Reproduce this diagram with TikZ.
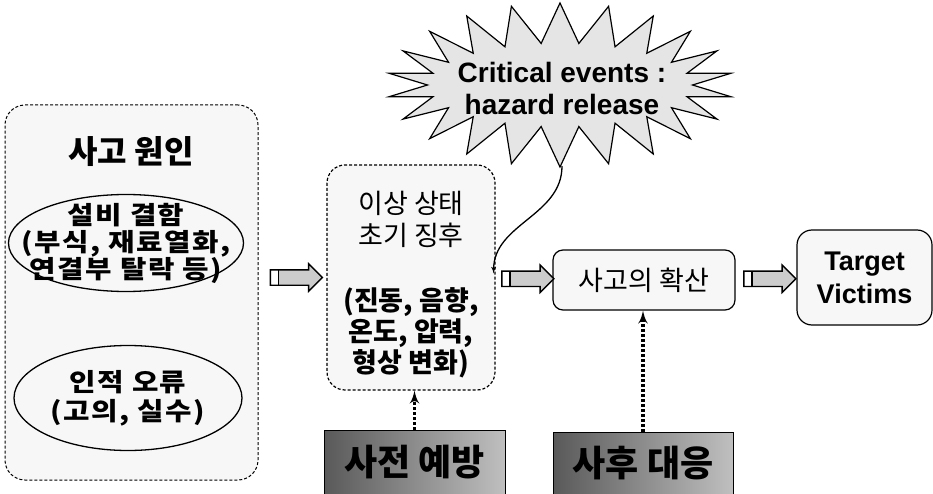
\documentclass[tikz,border=0pt]{standalone}
\usepackage{fontspec}
\setmainfont{Liberation Sans}
\newfontfamily\kr{Noto Sans CJK KR}
\usetikzlibrary{shapes,arrows}
\newcommand{\causefont}{\kr\bfseries\addfontfeature{FakeStretch=1.15,LetterSpace=6}\fontsize{25}{27}\selectfont}
\tikzstyle{group} = [rectangle, draw, densely dashed, line width=1pt, fill=gray!6,
    rounded corners=20pt]
\tikzstyle{cause} = [ellipse, draw, line width=1.3pt, fill=gray!6]
\tikzstyle{block} = [rectangle, draw, line width=1.2pt, fill=gray!6, align=center,
    rounded corners=10pt]
\tikzstyle{action} = [rectangle, draw, line width=1pt, left color=black!65, right color=black!25,
    font=\kr\bfseries\fontsize{36}{40}\selectfont]
\tikzstyle{fat} = [single arrow, draw, line width=1.4pt, fill=gray!40, inner xsep=0pt, inner ysep=7pt,
    minimum height=52pt, single arrow head extend=6pt,
    path picture={\fill[white] (path picture bounding box.south west) rectangle ([xshift=8pt]path picture bounding box.north west);
    \draw[line width=1.4pt] ([xshift=8pt]path picture bounding box.south west) -- ([xshift=8pt]path picture bounding box.north west);}]
\tikzstyle{line} = [draw, -latex', line width=1.3pt]
\tikzstyle{dots} = [draw, dash pattern=on 3pt off 2pt, line width=3.4pt, -latex']

\begin{document}
\begin{tikzpicture}[x=1pt, y=-1pt]
	\useasboundingbox (0,0) rectangle (933,494);

	% causes
	\node [group, minimum width=253pt, minimum height=375pt] (causes) at (131.5,292.5) {};
	\node [font=\kr\bfseries\fontsize{32}{36}\selectfont] (title) at (131,152) {사고 원인};
	\node [cause, minimum width=235pt, minimum height=97pt] (equip) at (126,243) {};
	\node [font=\causefont, align=center] (equiptext) at (equip) {설비 결함\\(부식, 재료열화,\\연결부 탈락 등)};
	\node [cause, minimum width=228pt, minimum height=105pt] (human) at (128,398) {};
	\node [font=\causefont, align=center] (humantext) at (human) {인적 오류\\[2pt](고의, 실수)};

	% chain
	\node [block, densely dashed, rounded corners=18pt, minimum width=168pt, minimum height=225pt] (early) at (411,277.5) {};
	\node [font=\kr\fontsize{27}{31}\selectfont, align=center] (earlytext) at ([yshift=-7pt]early)
		{이상 상태\\[1pt]초기 징후\\[34pt]\bfseries (진동, 음향,\\\bfseries 온도, 압력,\\\bfseries 형상 변화)};
	\node [block, minimum width=182pt, minimum height=60pt, font=\kr\fontsize{27}{31}\selectfont] (spread) at (644,280) {사고의 확산};
	\node [block, rounded corners=15pt, minimum width=135pt, minimum height=95pt,
		font=\bfseries\fontsize{27}{33}\selectfont] (victims) at (864.5,277.5) {Target\\Victims};

	\node [action, minimum width=181pt, minimum height=64pt] (prevent) at (414.5,462) {사전 예방};
	\node [action, minimum width=180pt, minimum height=62pt] (response) at (643,463) {사후 대응};

	\node [starburst, draw, line width=1.2pt, fill=gray!20, starburst points=22, starburst point height=40pt,
		random starburst=0, minimum width=345pt, minimum height=164pt, inner sep=0pt] (burst) at (560,85) {};
	\node [font=\bfseries\fontsize{28}{32}\selectfont, align=center] (bursttext) at (562,88) {Critical events :\\hazard release};
	\coordinate (foot) at (562,166);

	% connectors
	\path (causes.east |- early.west) -- node[fat] (fatA) {} (early.west);
	\path (early.east) -- node[fat] (fatB) {} (spread.west);
	\path (spread.east) -- node[fat] (fatC) {} (victims.west);
	\coordinate (hit) at ([xshift=-2pt,yshift=4pt]early.east);
	\path [line] (foot) to[out=-90, in=90] (hit);
	\path [dots] (prevent.north) -- (prevent.north |- early.south);
	\path [dots] (response.north) -- (response.north |- spread.south);
\end{tikzpicture}
\end{document}
